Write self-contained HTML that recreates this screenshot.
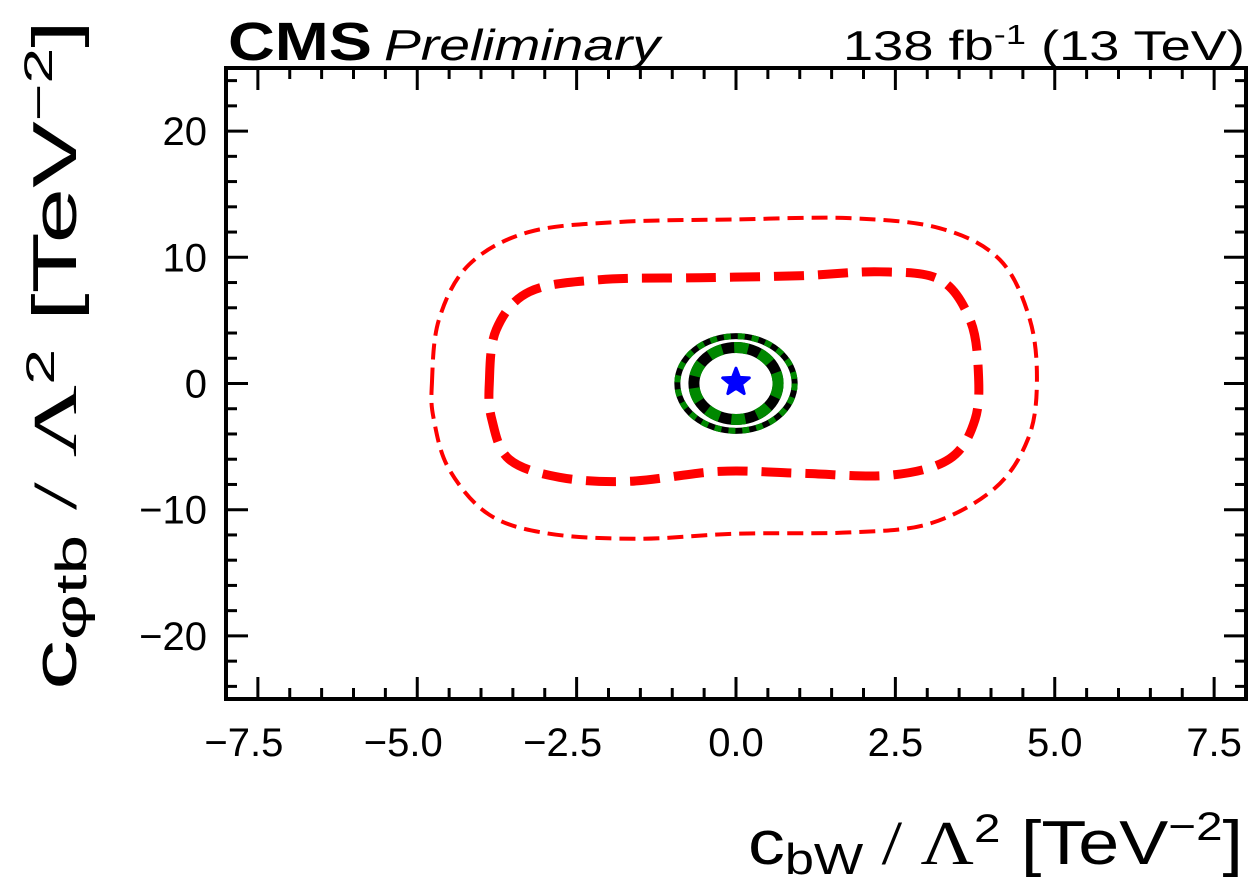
<!DOCTYPE html>
<html><head><meta charset="utf-8"><style>
html,body{margin:0;padding:0;background:#fff;}
svg{display:block;font-family:"Liberation Sans",sans-serif;}
</style></head><body>
<svg id="c" width="1251" height="880">
<text x="228" y="60" font-size="54" font-weight="bold" textLength="144" lengthAdjust="spacingAndGlyphs">CMS</text>
<text x="384" y="60" font-size="44" font-style="italic" textLength="276" lengthAdjust="spacingAndGlyphs">Preliminary</text>
<text x="843" y="60" font-size="42" textLength="402" lengthAdjust="spacingAndGlyphs">138 fb<tspan dy="-16" font-size="28">-1</tspan><tspan dy="16"> (13 TeV)</tspan></text>
<text x="748" y="864" font-size="62" textLength="495" lengthAdjust="spacingAndGlyphs">c<tspan font-size="44" dy="10">bW</tspan><tspan dy="-10" font-family="Liberation Serif"> / Λ</tspan><tspan dy="-22" font-size="40">2</tspan><tspan dy="22"> [TeV</tspan><tspan dy="-24" font-size="40">−2</tspan><tspan dy="24">]</tspan></text>
<text transform="translate(76,690) rotate(-90)" font-size="62" textLength="670" lengthAdjust="spacingAndGlyphs">c<tspan font-size="44" dy="10">φtb</tspan><tspan dy="-10" font-family="Liberation Serif"> / Λ</tspan><tspan dy="-22" font-size="40">2</tspan><tspan dy="22"> [TeV</tspan><tspan dy="-24" font-size="40">−2</tspan><tspan dy="24">]</tspan></text>
<g id="plot"></g>
</svg>
<script>
const xTicks=[-7.5,-5.0,-2.5,0.0,2.5,5.0,7.5];
const yTicks=[-20,-10,0,10,20];
const outerX=[-4.77,-4.66,-4.19,-3.25,-1.83,0,1.78,3.2,4.14,4.61,4.72,4.58,4.06,3.04,1.78,0,-1.52,-2.93,-3.87,-4.5,-4.74];
const outerY=[0,5.06,9.41,12.0,12.8,13.0,13.1,12.3,9.8,5.06,0,-4.4,-8.3,-11.1,-11.8,-11.9,-12.3,-11.9,-10.4,-6.8,-2.85];
const innerX=[-3.87,-3.76,-3.24,-2.14,-0.57,1.0,2.26,3.2,3.67,3.8,3.75,3.35,2.41,1.0,-0.26,-1.67,-2.77,-3.56,-3.83];
const innerY=[0,4.27,7.27,8.22,8.38,8.54,8.85,8.22,5.06,1.1,-2.85,-5.97,-7.27,-7.11,-6.96,-7.75,-7.43,-6.0,-2.85];
const bestFit=[0.0,0.1];
const ell1=[0.92,3.75];
const ell2=[0.66,2.85];
const X0=226,X1=1246,Y0=68,Y1=699;
const sx=v=>X0+(v+8)/16*(X1-X0);
const sy=v=>Y1-(v+25)/50*(Y1-Y0);
const g=document.getElementById('plot');
const NS='http://www.w3.org/2000/svg';
function mk(t,a){const e=document.createElementNS(NS,t);for(const k in a)e.setAttribute(k,a[k]);g.appendChild(e);return e;}
function path(xs,ys){const n=xs.length;const P=xs.map((x,i)=>[sx(x),sy(ys[i])]);let d=`M${P[0][0]},${P[0][1]}`;
for(let i=0;i<n;i++){const p0=P[(i-1+n)%n],p1=P[i],p2=P[(i+1)%n],p3=P[(i+2)%n];
d+=`C${p1[0]+(p2[0]-p0[0])/6},${p1[1]+(p2[1]-p0[1])/6} ${p2[0]-(p3[0]-p1[0])/6},${p2[1]-(p3[1]-p1[1])/6} ${p2[0]},${p2[1]}`;}return d+'Z';}
let e=mk('path',{d:path(outerX,outerY),fill:'none',stroke:'#f00','stroke-width':4,'stroke-dasharray':'16 8'});

e=mk('path',{d:path(innerX,innerY),fill:'none',stroke:'#f00','stroke-width':9,'stroke-dasharray':'30 14'});

const cx=sx(bestFit[0]),cy=sy(0);
[[ell1,6,'7 7'],[ell2,11,'14 12']].forEach((q,i)=>{
 const rx=q[0][0]*(X1-X0)/16, ry=q[0][1]*(Y1-Y0)/50;
 e=mk('ellipse',{cx,cy,rx,ry,fill:'none',stroke:'#000','stroke-width':q[1]});
 
 e=mk('ellipse',{cx,cy,rx,ry,fill:'none',stroke:'#080','stroke-width':q[1],'stroke-dasharray':q[2]});
 
});
const bx=sx(bestFit[0]),by=sy(bestFit[1]);let pts=[];
for(let i=0;i<10;i++){const r=i%2?6:14,a=-Math.PI/2+i*Math.PI/5;pts.push((bx+r*Math.cos(a)).toFixed(1)+','+(by+r*Math.sin(a)).toFixed(1));}
e=mk('polygon',{points:pts.join(' '),fill:'#00f',stroke:'#00f','stroke-width':3,'stroke-linejoin':'round'});

e=mk('rect',{x:X0,y:Y0,width:X1-X0,height:Y1-Y0,fill:'none',stroke:'#000','stroke-width':4});

for(let v=-8;v<=8.001;v+=0.5){const maj=Math.abs(v/2.5-Math.round(v/2.5))<1e-6;const L=maj?22:11;const x=sx(v);
 e=mk('line',{x1:x,x2:x,y1:Y1,y2:Y1-L,stroke:'#000','stroke-width':3});
 e=mk('line',{x1:x,x2:x,y1:Y0,y2:Y0+L,stroke:'#000','stroke-width':3});}
for(let v=-24;v<=24;v+=2){const maj=v%10===0;const L=maj?22:11;const y=sy(v);
 e=mk('line',{x1:X0,x2:X0+L,y1:y,y2:y,stroke:'#000','stroke-width':3});
 e=mk('line',{x1:X1,x2:X1-L,y1:y,y2:y,stroke:'#000','stroke-width':3});}
xTicks.forEach(v=>{e=mk('text',{x:sx(v)-(v<0?14:0),y:756,'font-size':40,'text-anchor':'middle'});e.textContent=(v<0?'−':'')+Math.abs(v).toFixed(1);
 });
yTicks.forEach(v=>{e=mk('text',{x:207,y:sy(v)+14,'font-size':40,'text-anchor':'end'});e.textContent=(v<0?'−':'')+Math.abs(v);
 });
</script>
</body></html>
